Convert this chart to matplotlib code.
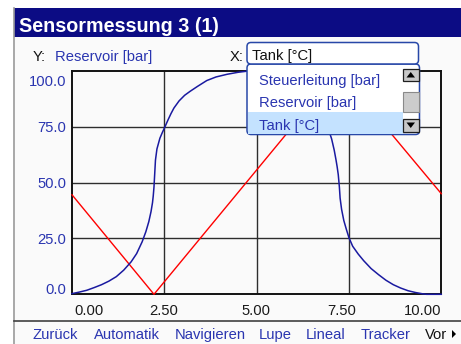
import matplotlib
matplotlib.use("Agg")
import matplotlib.pyplot as plt
from matplotlib.patches import Rectangle, FancyBboxPatch, Polygon
from matplotlib.lines import Line2D
import matplotlib.transforms as mtransforms

# ---------------- data ----------------
title = "Sensormessung 3 (1)"
y_channel = "Reservoir [bar]"
x_channel = "Tank [°C]"
dropdown_items = ["Steuerleitung [bar]", "Reservoir [bar]", "Tank [°C]"]
footer_items = ["Zurück", "Automatik", "Navigieren", "Lupe", "Lineal", "Tracker", "Vor"]

x_ticks = [0.0, 2.5, 5.0, 7.5, 10.0]
x_tick_labels = ["0.00", "2.50", "5.00", "7.50", "10.00"]
y_ticks = [0.0, 25.0, 50.0, 75.0, 100.0]
y_tick_labels = ["0.0", "25.0", "50.0", "75.0", "100.0"]

red_x = [0.0, 2.22, 7.22, 10.0]
red_y = [44.5, 0.0, 100.0, 45.0]

blue_x = [0.0, 0.2, 0.4, 0.6, 0.8, 1.0, 1.2, 1.4, 1.6, 1.75, 1.9, 2.0, 2.08, 2.14,
          2.18, 2.2, 2.22, 2.24, 2.26, 2.3, 2.38, 2.45, 2.52, 2.6, 2.68, 2.76, 2.9,
          3.05, 3.2, 3.4, 3.65, 3.9, 4.2, 4.5, 4.8, 5.0, 5.2, 5.45, 5.7, 6.0, 6.3,
          6.5, 6.7, 6.85, 6.95, 7.03, 7.1, 7.15, 7.18, 7.21, 7.24, 7.26, 7.3, 7.36,
          7.43, 7.5, 7.6, 7.75, 7.9, 8.1, 8.3, 8.5, 8.7, 8.9, 9.1, 9.3, 9.5, 9.6, 10.0]
blue_y = [0.3, 1.0, 1.8, 3.0, 4.3, 5.9, 7.9, 10.8, 14.5, 18.2, 23.5, 28.0, 32.5, 37.0,
          41.0, 44.0, 48.0, 54.0, 60.0, 65.0, 69.8, 72.5, 75.0, 78.0, 80.8, 83.3, 86.5,
          89.0, 90.8, 93.0, 95.6, 97.2, 98.4, 99.3, 99.9, 99.9, 99.3, 98.0, 96.0, 93.0, 89.5,
          86.0, 81.5, 77.0, 73.5, 69.5, 64.5, 60.0, 57.0, 53.5, 48.0, 43.0, 38.0, 33.0,
          29.0, 25.3, 21.5, 18.0, 15.0, 11.5, 8.8, 6.3, 4.3, 2.8, 1.6, 0.8, 0.2, 0.0, 0.0]

# ---------------- style ----------------
plt.rcParams['font.family'] = ['Liberation Sans', 'DejaVu Sans']
FS = 10.6
W, H = 461, 344
NAVY = '#0c0c84'
BLUE_TXT = '#2a35b0'
WIN_BG = '#fafafa'

fig = plt.figure(figsize=(W / 100, H / 100), dpi=100)
fig.patch.set_facecolor('white')

# background / window layer
bg = fig.add_axes([0, 0, 1, 1], zorder=0)
bg.set_xlim(0, W); bg.set_ylim(H, 0); bg.axis('off')
bg.add_patch(Rectangle((14, 8), W - 14, H - 8, facecolor=WIN_BG, edgecolor='none'))
bg.add_line(Line2D([14, 14], [8, H], color='#9a9a9a', lw=1.2))
bg.add_patch(Rectangle((14, 8), W - 14, 28.5, facecolor=NAVY, edgecolor='none'))
bg.text(19, 31.5, title, color='white', fontsize=14.2, fontweight='bold', va='baseline', ha='left')
bg.text(33, 61, "Y:", color='#111111', fontsize=FS, va='baseline')
bg.text(55, 61, y_channel, color=BLUE_TXT, fontsize=FS, va='baseline')
bg.text(230, 61, "X:", color='#111111', fontsize=FS, va='baseline')
bg.add_line(Line2D([14, W], [321, 321], color='#404040', lw=1.2))
footer_x = [32, 94, 175, 259, 306, 361, 425]
for name, fx in zip(footer_items, footer_x):
    col = '#111111' if name == "Vor" else BLUE_TXT
    bg.text(fx, 339, name, color=col, fontsize=FS, va='baseline', ha='left')
bg.add_patch(Polygon([[452, 330], [452, 338], [456, 334]], closed=True, facecolor='black', edgecolor='none'))

# ---------------- plot ----------------
L, R, T, B = 72, 441.3, 70.7, 294.3
ax = fig.add_axes([L / W, 1 - B / H, (R - L) / W, (B - T) / H], zorder=1)
ax.set_facecolor(WIN_BG)
ax.set_xlim(0, 10); ax.set_ylim(0, 100)
ax.set_xticks(x_ticks[1:-1]); ax.set_yticks(y_ticks[1:-1])
ax.tick_params(length=0, labelbottom=False, labelleft=False)
ax.grid(True, color='#2e2e2e', lw=1.0)
for s in ax.spines.values():
    s.set_color('#111111'); s.set_linewidth(1.4)

ax.plot(red_x, red_y, color='#ff0000', lw=1.0, clip_on=False, zorder=4)
ax.plot(blue_x, blue_y, color='#1a1aa0', lw=1.1, clip_on=False, zorder=4)

# y tick labels
for v, lab in zip(y_ticks, y_tick_labels):
    dy = -5.5
    if v == 100.0:
        dy = -15.5
    elif v == 0.0:
        dy = 0.0
    tr = mtransforms.offset_copy(ax.get_yaxis_transform(), fig=fig, x=-6, y=dy, units='dots')
    ax.text(0, v, lab, transform=tr, ha='right', va='baseline', color=BLUE_TXT, fontsize=FS, clip_on=False)

# x tick labels
x_off = {0.0: (2, 'left'), 2.5: (-0.6, 'center'), 5.0: (-1, 'center'), 7.5: (-7.6, 'center'), 10.0: (0, 'right')}
for v, lab in zip(x_ticks, x_tick_labels):
    dx, ha = x_off[v]
    tr = mtransforms.offset_copy(ax.get_xaxis_transform(), fig=fig, x=dx, y=-20.7, units='dots')
    ax.text(v, 0, lab, transform=tr, ha=ha, va='baseline', color='#1a1a1a', fontsize=FS, clip_on=False)

# ---------------- dropdown overlay ----------------
ui = fig.add_axes([0, 0, 1, 1], zorder=10)
ui.set_xlim(0, W); ui.set_ylim(H, 0); ui.axis('off')
ui.patch.set_alpha(0)
border = '#2848a8'
ui.add_patch(FancyBboxPatch((247, 64), 172.5, 70.5, boxstyle='round,pad=0,rounding_size=4',
                            facecolor='white', edgecolor=border, lw=1.1))
ui.add_patch(FancyBboxPatch((247, 42.5), 171.5, 21.5, boxstyle='round,pad=0,rounding_size=4',
                            facecolor='white', edgecolor=border, lw=1.1))
ui.text(252, 60, x_channel, color='#111111', fontsize=FS, va='baseline')
ui.add_patch(Rectangle((248, 112), 155, 21.5, facecolor='#c4e2ff', edgecolor='none'))
item_base = [85, 107, 130]
for it, yb in zip(dropdown_items, item_base):
    ui.text(259, yb, it, color=BLUE_TXT, fontsize=FS, va='baseline')
# scrollbar
sx0, sx1 = 403, 418.5
ui.add_patch(Rectangle((sx0, 68.5), sx1 - sx0, 12, facecolor='#c8c8c8', edgecolor='#202020', lw=0.9))
ui.add_patch(Polygon([[406.5, 77.5], [415, 77.5], [410.75, 72]], closed=True, facecolor='black', edgecolor='none'))
ui.add_patch(Rectangle((sx0, 91.5), sx1 - sx0, 20.5, facecolor='#cccccc', edgecolor='#8a8a8a', lw=0.8))
ui.add_patch(Rectangle((sx0, 118.5), sx1 - sx0, 13, facecolor='#c8c8c8', edgecolor='#202020', lw=0.9))
ui.add_patch(Polygon([[406.5, 122.5], [415, 122.5], [410.75, 128]], closed=True, facecolor='black', edgecolor='none'))

fig.savefig('out.png', dpi=100, facecolor=fig.get_facecolor())
